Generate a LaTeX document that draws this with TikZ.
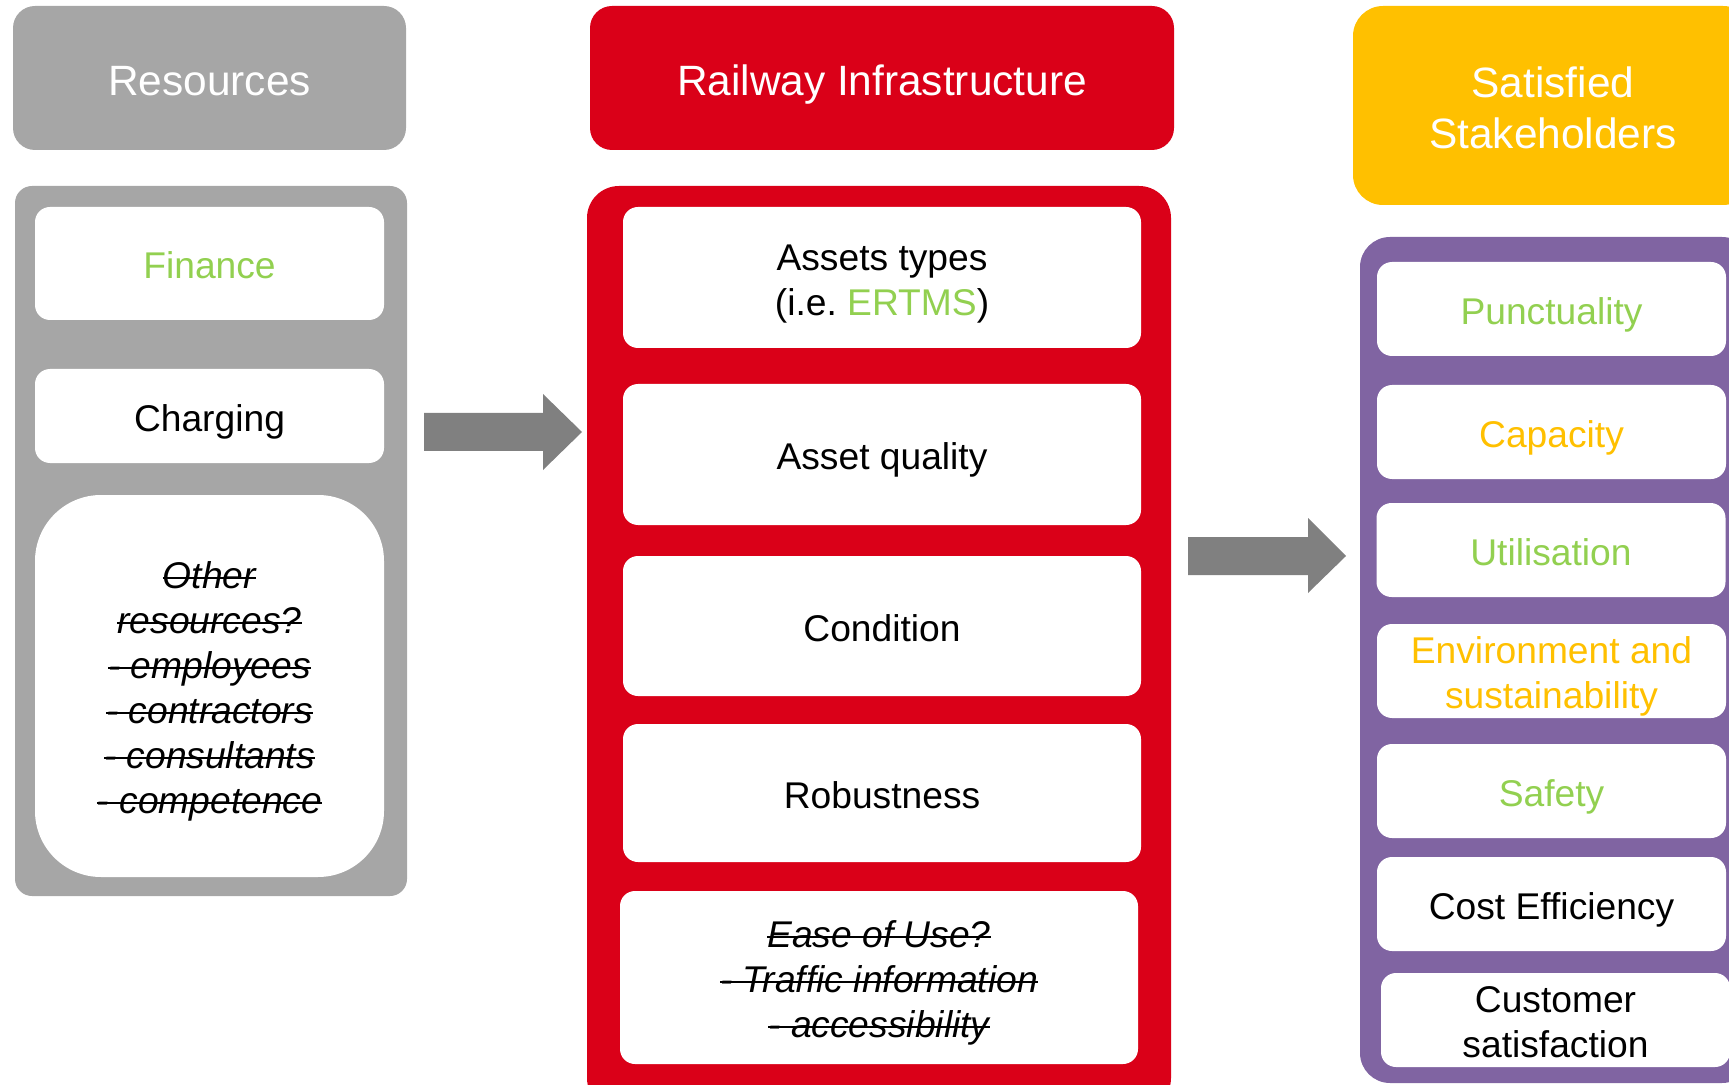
\documentclass[tikz,border=0pt]{standalone}
\usepackage{fontspec}
\setmainfont{Liberation Sans}
\frenchspacing
\newcommand\mystrike[1]{\setbox0\hbox{#1}\leavevmode\rlap{\rule[0.26em]{\wd0}{0.9pt}}\box0}
\newcommand\mlstrut{\rule{0pt}{1.05em}}
\definecolor{resgrey}{HTML}{A6A6A6}
\definecolor{railred}{HTML}{DA0018}
\definecolor{stakeyellow}{HTML}{FFC000}
\definecolor{panelpurple}{HTML}{8064A2}
\definecolor{accgreen}{HTML}{92D050}
\definecolor{accorange}{HTML}{FFC000}
\definecolor{arrowgrey}{HTML}{808080}
\begin{document}
\begin{tikzpicture}[x=0.5pt,y=-0.5pt,
  pptext/.style={execute at begin node={\rule{0pt}{1.05em}},
    execute at end node={\rule[-0.23em]{0pt}{0.23em}}},
  hdr/.style={pptext, rounded corners=11pt, text=white, align=center, inner sep=0pt,
    font=\fontsize{21.2}{25.4}\selectfont},
  panelbox/.style={inner sep=0pt},
  wbox/.style={pptext, fill=white, rounded corners=7.5pt, inner sep=0pt, align=center,
    font=\fontsize{18.6}{22.4}\selectfont},
  strikebox/.style={wbox, font=\fontsize{18.6}{22.5}\selectfont\itshape},
  resbox/.style={wbox, minimum width=174.5pt, minimum height=47pt},
  railbox/.style={wbox, minimum width=259pt, minimum height=70.5pt},
  stakebox/.style={wbox, minimum width=174.5pt, minimum height=47pt},
  blockarrow/.style={fill=arrowgrey}
]
\clip (0,0) rectangle (1729,1085);

% Resources column
\node[hdr, fill=resgrey, minimum width=196.5pt, minimum height=72pt] (reshdr) at (209.5,78) {Resources};
\node[panelbox, fill=resgrey, rounded corners=8.5pt, minimum width=196pt, minimum height=355pt] (respanel) at (211,541) {};
\node[resbox, minimum height=56.5pt, text=accgreen] (finance) at (209.5,263.5) {Finance};
\node[resbox] (charging) at (209.5,416) {Charging};
\node[strikebox, rounded corners=33pt, minimum width=174.5pt, minimum height=191pt] (other) at (209.5,686)
  {\mlstrut\mystrike{Other}\\\mystrike{resources?}\\\mystrike{- employees}\\\mystrike{- contractors}\\\mystrike{- consultants}\\\mystrike{- competence}};

% Arrow 1
\fill[blockarrow] (424,413) -- (543,413) -- (543,394) -- (582,432) -- (543,470) -- (543,451) -- (424,451) -- cycle;

% Railway column
\node[hdr, fill=railred, minimum width=292pt, minimum height=72pt] (railhdr) at (882,78) {Railway Infrastructure};
\node[panelbox, fill=railred, rounded corners=16pt, minimum width=292pt, minimum height=462pt] (railpanel) at (879,648) {};
\node[railbox] (assets) at (882,277.5) {\mlstrut Assets types\\(i.e. \textcolor{accgreen}{ERTMS})};
\node[railbox] (quality) at (882,454.5) {Asset quality};
\node[railbox, minimum height=70pt] (condition) at (882,626) {Condition};
\node[railbox, minimum height=69pt] (robust) at (882,793) {Robustness};
\node[strikebox, minimum width=259pt, minimum height=86.5pt] (ease) at (879,977.5)
  {\mlstrut\mystrike{Ease of Use?}\\\mystrike{- Traffic information}\\\mystrike{- accessibility}};

% Arrow 2
\fill[blockarrow] (1188,537) -- (1308,537) -- (1308,518) -- (1346,556) -- (1308,593) -- (1308,575) -- (1188,575) -- cycle;

% Stakeholders column
\node[hdr, fill=stakeyellow, rounded corners=15pt, minimum width=200pt, minimum height=99.5pt] (stakehdr) at (1553,105.5) {\mlstrut Satisfied\\Stakeholders};
\node[panelbox, fill=panelpurple, rounded corners=15pt, minimum width=196pt, minimum height=423pt] (stakepanel) at (1556,660) {};
\node[stakebox, text=accgreen] (punct) at (1551.5,309) {Punctuality};
\node[stakebox, text=accorange] (capacity) at (1551.5,432) {Capacity};
\node[stakebox, text=accgreen] (util) at (1551,550) {Utilisation};
\node[stakebox, text=accorange] (env) at (1551.5,671) {\mlstrut Environment and\\sustainability};
\node[stakebox, text=accgreen] (safety) at (1551.5,791) {Safety};
\node[stakebox] (cost) at (1551.5,904) {Cost Efficiency};
\node[stakebox] (customer) at (1555.5,1020) {\mlstrut Customer\\satisfaction};
\end{tikzpicture}
\end{document}
